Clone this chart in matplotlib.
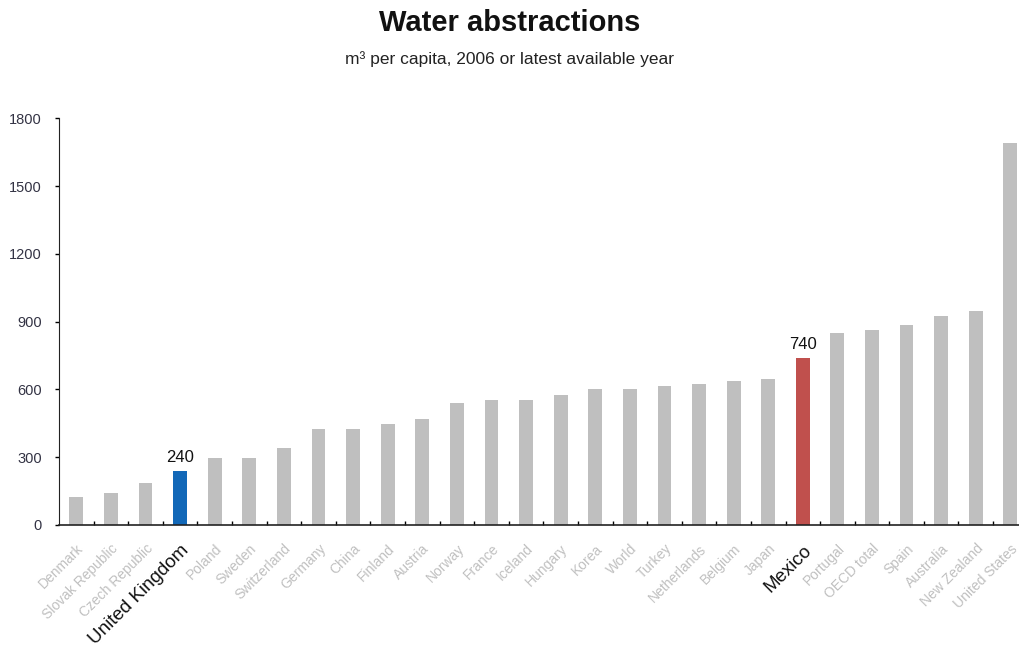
import matplotlib.pyplot as plt
import numpy as np

plt.rcParams['font.family'] = ['Liberation Sans', 'DejaVu Sans']

# Données (m³ par habitant)
pays = ['Denmark', 'Slovak Republic', 'Czech Republic', 'United Kingdom', 'Poland',
        'Sweden', 'Switzerland', 'Germany', 'China', 'Finland', 'Austria', 'Norway',
        'France', 'Iceland', 'Hungary', 'Korea', 'World', 'Turkey', 'Netherlands',
        'Belgium', 'Japan', 'Mexico', 'Portugal', 'OECD total', 'Spain', 'Australia',
        'New Zealand', 'United States']
valeurs = [125, 140, 188, 240, 295, 295, 340, 425, 425, 446, 468, 539, 554, 554,
           575, 604, 604, 617, 624, 638, 645, 740, 851, 865, 887, 923, 945, 1690]
destaques = {'United Kingdom': '#1268b8', 'Mexico': '#c0504d'}
yticks = [0, 300, 600, 900, 1200, 1500, 1800]

fig = plt.figure(figsize=(10.19, 6.52), dpi=100)
ax = fig.add_axes([0.058, 0.1948, 0.942, 0.6238])

x = np.arange(len(pays))
cores = [destaques.get(p, '#bfbfbf') for p in pays]
ax.bar(x, valeurs, width=0.4, color=cores, zorder=2)

# Rótulos de valor para os destaques
for i, p in enumerate(pays):
    if p in destaques:
        ax.text(i, valeurs[i] + 25, str(valeurs[i]), ha='center', va='bottom',
                fontsize=12, color='#111111')

ax.set_xlim(-0.5, 27.25)
ax.set_ylim(0, 1800)
ax.set_yticks(yticks)
ax.set_yticklabels([str(v) for v in yticks], fontsize=10.5, color='#333344')
ax.tick_params(axis='y', length=3, width=1, direction='out', pad=9.5)

# Eixo x: traços entre as barras, rótulos girados
ax.set_xticks(x)
ax.set_xticks(x[:-1] + 0.5, minor=True)
ax.tick_params(axis='x', which='major', length=0, pad=12)
ax.tick_params(axis='x', which='minor', length=3, width=1, direction='in')
labels = ax.set_xticklabels(pays, rotation=45, ha='right', rotation_mode='anchor')
for lab, p in zip(labels, pays):
    if p in destaques:
        lab.set_fontsize(13.5)
        lab.set_color('#111111')
    else:
        lab.set_fontsize(10)
        lab.set_color('#c0c0c0')

for s in ['top', 'right']:
    ax.spines[s].set_visible(False)
ax.spines['left'].set_color('#222222')
ax.spines['bottom'].set_color('#222222')
ax.spines['bottom'].set_linewidth(1.2)

fig.text(0.5, 0.964, 'Water abstractions', ha='center', va='center',
         fontsize=21, fontweight='bold', color='#111111')
fig.text(0.5, 0.91, 'm³ per capita, 2006 or latest available year', ha='center',
         va='center', fontsize=12.5, color='#222222')

fig.savefig('out.png', dpi=100)
